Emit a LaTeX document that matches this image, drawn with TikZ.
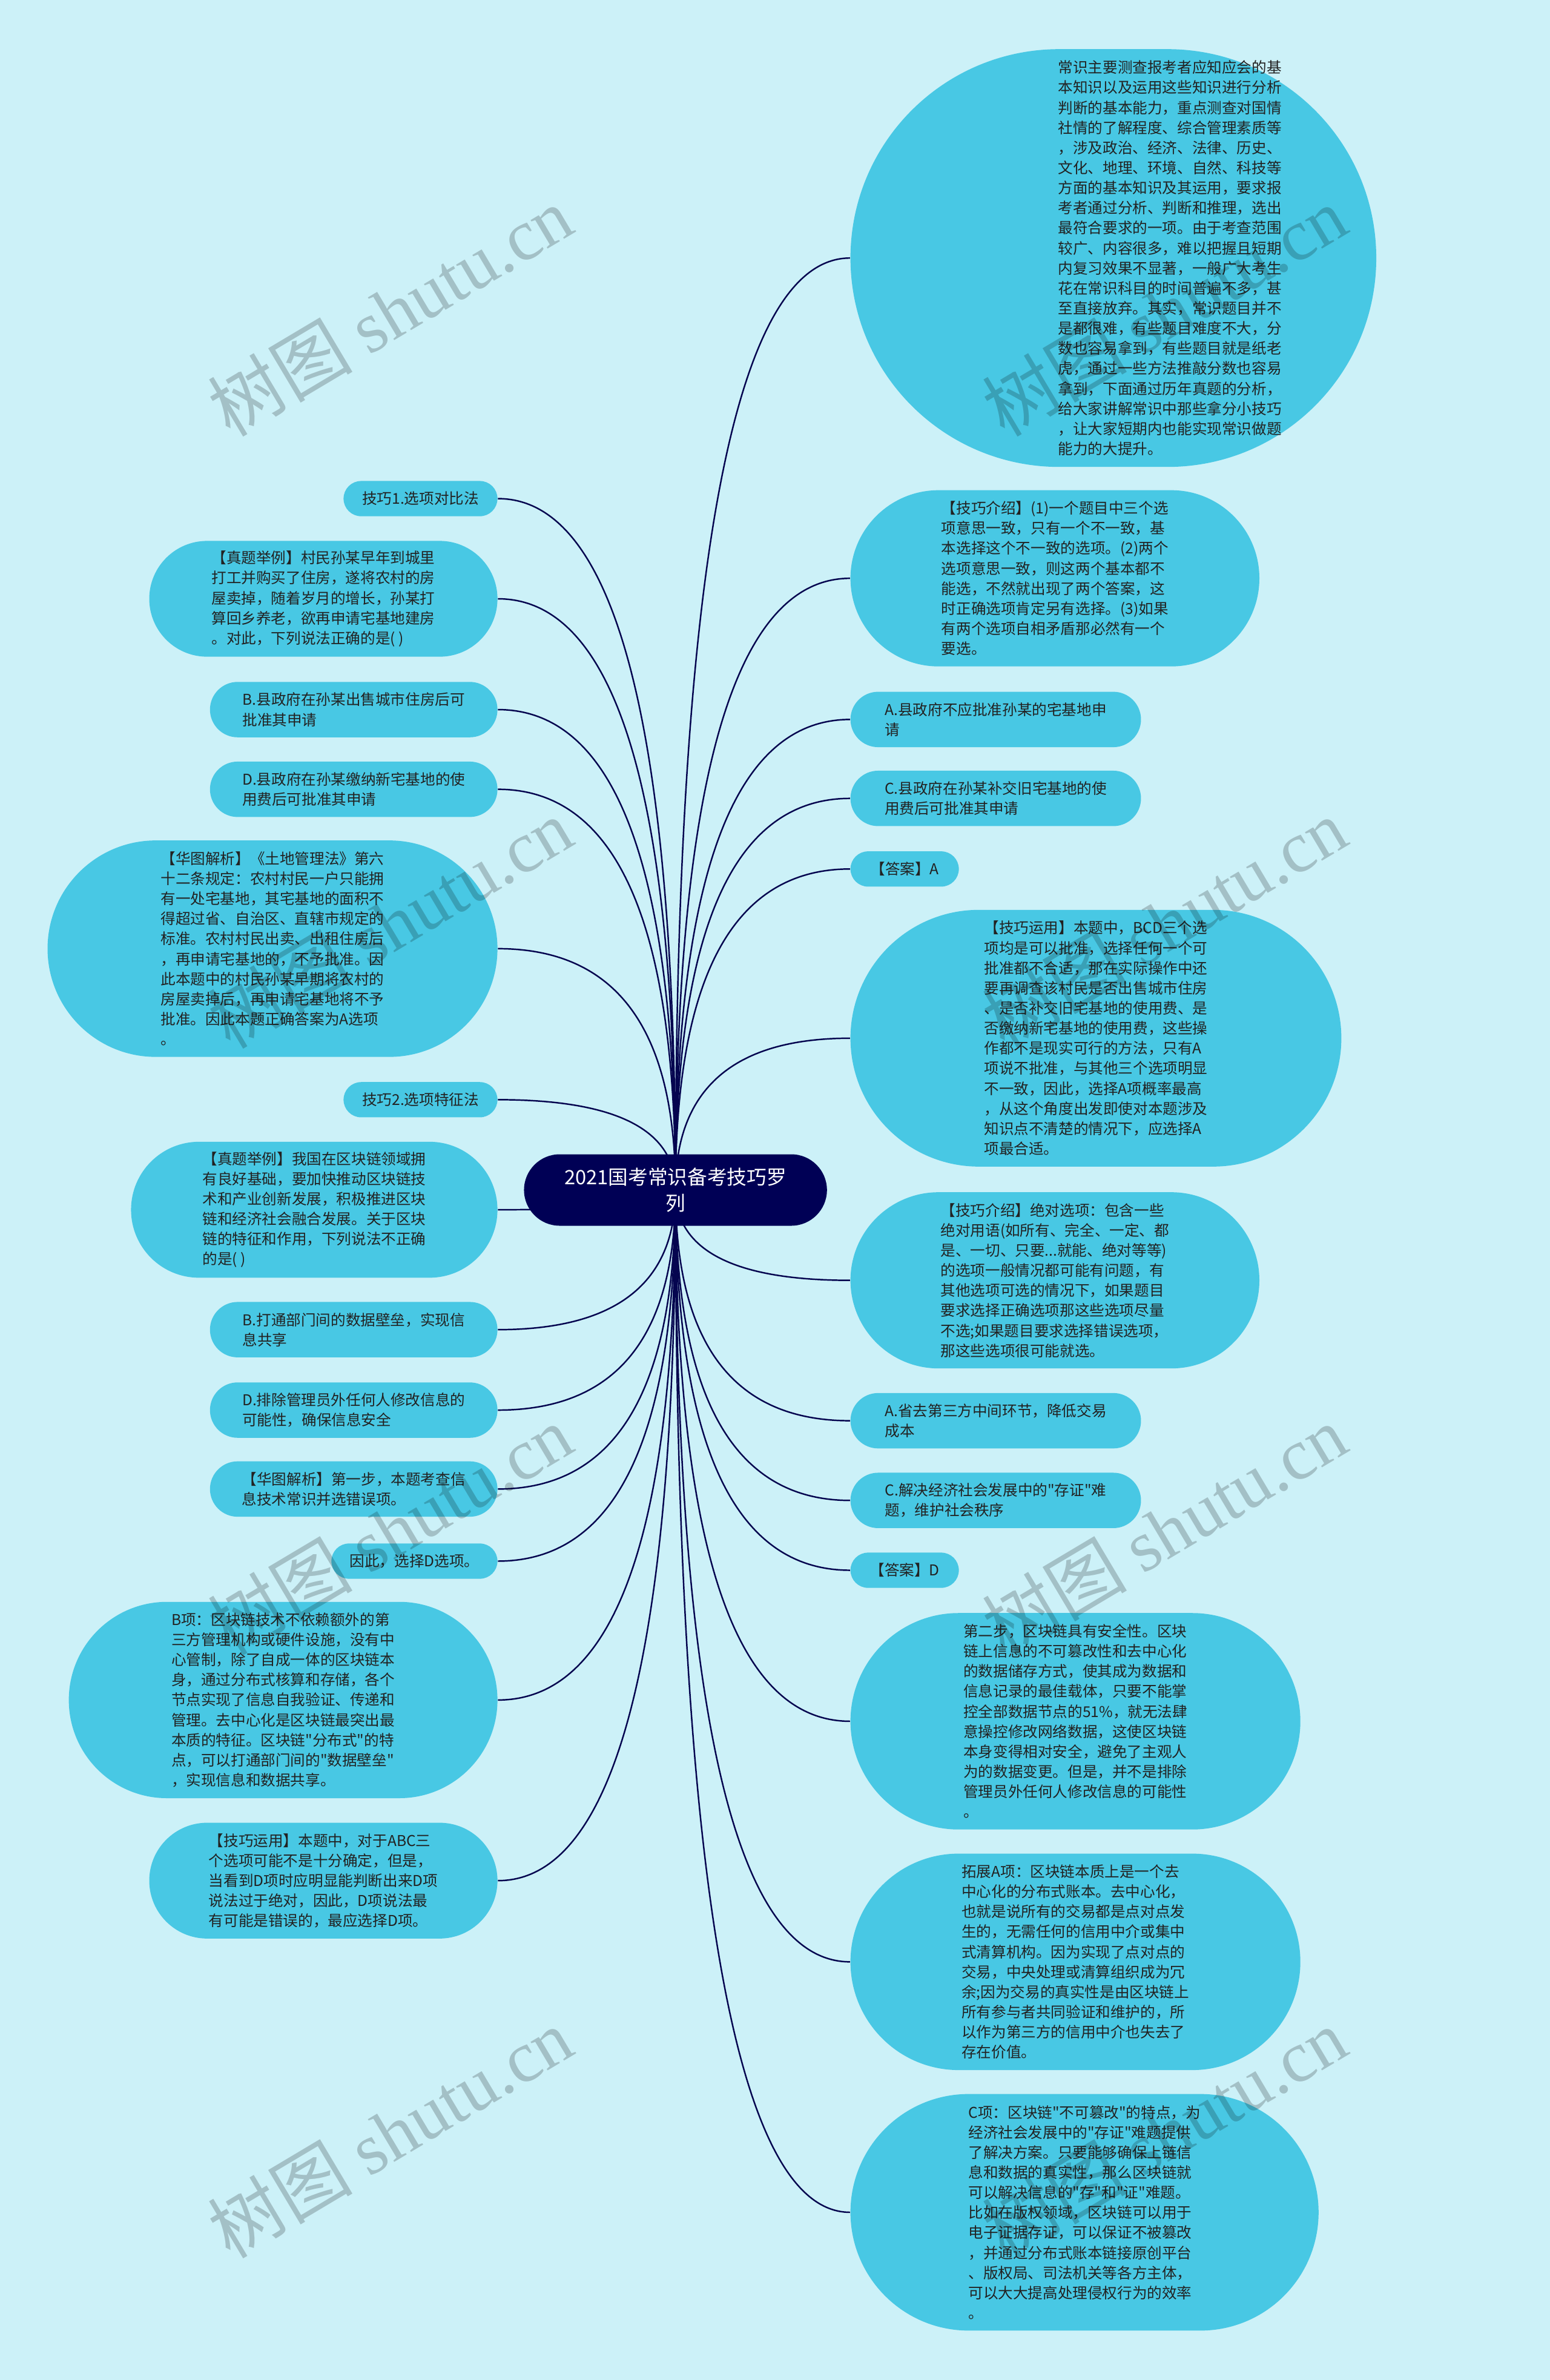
\documentclass[tikz,border=0pt]{standalone}
\usepackage{fontspec}
\setmainfont{Noto Sans CJK SC}[Ligatures=TeXOff]
\newfontfamily\markfont{Liberation Serif}
\usetikzlibrary{shapes.misc,calc,positioning}
\definecolor{bgcyan}{HTML}{CCF1F8}
\definecolor{cardblue}{HTML}{48C8E4}
\definecolor{hubnavy}{HTML}{000055}
\definecolor{linknavy}{HTML}{05054F}
\definecolor{inktext}{HTML}{222222}
\pgfdeclarelayer{bg}
\pgfdeclarelayer{links}
\pgfsetlayers{bg,links,main}
\tikzset{
  cardtext/.style={text=inktext,inner xsep=2pt,inner ysep=0pt,align=left,
    font=\fontsize{7pt}{9.43pt}\selectfont},
  card/.style={cardtext,rounded rectangle,fill=cardblue},
  nrows/.style={minimum height=#1*0.3325cm+0.25cm},
  wd/.style={minimum width=(#1+7)*0.02507cm},
  hub/.style={rounded rectangle,fill=hubnavy,text=white,inner xsep=2.8pt,minimum height=1.18cm,
    minimum width=5.2cm,align=center,font=\fontsize{9.3pt}{12.1pt}\selectfont},
  link/.style={draw=linknavy,line width=.7pt},
  wmark/.style={rotate=30.8,text=black,opacity=.2,font=\fontsize{34pt}{34pt}\selectfont}
}
\begin{document}
\begin{tikzpicture}[x=0.02507cm,y=-0.02507cm]
\useasboundingbox (0,0) rectangle (1021,1568);
\begin{pgfonlayer}{bg}
\fill[bgcyan] (0,0) rectangle (1021,1568);
\end{pgfonlayer}
\node[hub] (hub) at (445,784) {2021国考常识备考技巧罗\\列};
% right branch
\node[card,nrows=20,wd=345,anchor=west] (r1) at (560,170) {};
\node[cardtext,anchor=west] (r1t) at (694,170) {常识主要测查报考者应知应会的基\\本知识以及运用这些知识进行分析\\判断的基本能力，重点测查对国情\\社情的了解程度、综合管理素质等\\，涉及政治、经济、法律、历史、\\文化、地理、环境、自然、科技等\\方面的基本知识及其运用，要求报\\考者通过分析、判断和推理，选出\\最符合要求的一项。由于考查范围\\较广、内容很多，难以把握且短期\\内复习效果不显著，一般广大考生\\花在常识科目的时间普遍不多，甚\\至直接放弃。其实，常识题目并不\\是都很难，有些题目难度不大，分\\数也容易拿到，有些题目就是纸老\\虎，通过一些方法推敲分数也容易\\拿到，下面通过历年真题的分析，\\给大家讲解常识中那些拿分小技巧\\，让大家短期内也能实现常识做题\\能力的大提升。};
\node[card,nrows=8,wd=268,anchor=west] (r2) at (560,381) {【技巧介绍】(1)一个题目中三个选\\项意思一致，只有一个不一致，基\\本选择这个不一致的选项。(2)两个\\选项意思一致，则这两个基本都不\\能选，不然就出现了两个答案，这\\时正确选项肯定另有选择。(3)如果\\有两个选项自相矛盾那必然有一个\\要选。};
\node[card,nrows=2,wd=190,anchor=west] (r3) at (560,474) {A.县政府不应批准孙某的宅基地申\\请};
\node[card,nrows=2,wd=190,anchor=west] (r4) at (560,526) {C.县政府在孙某补交旧宅基地的使\\用费后可批准其申请};
\node[card,nrows=1,wd=70,anchor=west] (r5) at (560,572.5) {【答案】A};
\node[card,nrows=12,wd=322,anchor=west] (r6) at (560,684) {【技巧运用】本题中，BCD三个选\\项均是可以批准，选择任何一个可\\批准都不合适，那在实际操作中还\\要再调查该村民是否出售城市住房\\、是否补交旧宅基地的使用费、是\\否缴纳新宅基地的使用费，这些操\\作都不是现实可行的方法，只有A\\项说不批准，与其他三个选项明显\\不一致，因此，选择A项概率最高\\，从这个角度出发即使对本题涉及\\知识点不清楚的情况下，应选择A\\项最合适。};
\node[card,nrows=8,wd=268,anchor=west] (r7) at (560,843.5) {【技巧介绍】绝对选项：包含一些\\绝对用语(如所有、完全、一定、都\\是、一切、只要...就能、绝对等等)\\的选项一般情况都可能有问题，有\\其他选项可选的情况下，如果题目\\要求选择正确选项那这些选项尽量\\不选;如果题目要求选择错误选项，\\那这些选项很可能就选。};
\node[card,nrows=2,wd=190,anchor=west] (r8) at (560,936) {A.省去第三方中间环节，降低交易\\成本};
\node[card,nrows=2,wd=190,anchor=west] (r9) at (560,988.5) {C.解决经济社会发展中的"存证"难\\题，维护社会秩序};
\node[card,nrows=1,wd=70,anchor=west] (r10) at (560,1034.5) {【答案】D};
\node[card,nrows=10,wd=295,anchor=west] (r11) at (560,1134) {第二步，区块链具有安全性。区块\\链上信息的不可篡改性和去中心化\\的数据储存方式，使其成为数据和\\信息记录的最佳载体，只要不能掌\\控全部数据节点的51\%，就无法肆\\意操控修改网络数据，这使区块链\\本身变得相对安全，避免了主观人\\为的数据变更。但是，并不是排除\\管理员外任何人修改信息的可能性\\。};
\node[card,nrows=10,wd=295,anchor=west] (r12) at (560,1292.5) {拓展A项：区块链本质上是一个去\\中心化的分布式账本。去中心化，\\也就是说所有的交易都是点对点发\\生的，无需任何的信用中介或集中\\式清算机构。因为实现了点对点的\\交易，中央处理或清算组织成为冗\\余;因为交易的真实性是由区块链上\\所有参与者共同验证和维护的，所\\以作为第三方的信用中介也失去了\\存在价值。};
\node[card,nrows=11,wd=307,anchor=west] (r13) at (560,1457.5) {C项：区块链"不可篡改"的特点，为\\经济社会发展中的"存证"难题提供\\了解决方案。只要能够确保上链信\\息和数据的真实性，那么区块链就\\可以解决信息的"存"和"证"难题。\\比如在版权领域，区块链可以用于\\电子证据存证，可以保证不被篡改\\，并通过分布式账本链接原创平台\\、版权局、司法机关等各方主体，\\可以大大提高处理侵权行为的效率\\。};
% left branch
\node[card,nrows=1,wd=100,anchor=east] (l1) at (328,328.5) {技巧1.选项对比法};
\node[card,nrows=5,wd=228,anchor=east] (l2) at (328,394.5) {【真题举例】村民孙某早年到城里\\打工并购买了住房，遂将农村的房\\屋卖掉，随着岁月的增长，孙某打\\算回乡养老，欲再申请宅基地建房\\。对此，下列说法正确的是( )};
\node[card,nrows=2,wd=188,anchor=east] (l3) at (328,467.5) {B.县政府在孙某出售城市住房后可\\批准其申请};
\node[card,nrows=2,wd=188,anchor=east] (l4) at (328,520) {D.县政府在孙某缴纳新宅基地的使\\用费后可批准其申请};
\node[card,nrows=10,wd=295,anchor=east] (l5) at (328,625) {【华图解析】《土地管理法》第六\\十二条规定：农村村民一户只能拥\\有一处宅基地，其宅基地的面积不\\得超过省、自治区、直辖市规定的\\标准。农村村民出卖、出租住房后\\，再申请宅基地的，不予批准。因\\此本题中的村民孙某早期将农村的\\房屋卖掉后，再申请宅基地将不予\\批准。因此本题正确答案为A选项\\。};
\node[card,nrows=1,wd=100,anchor=east] (l6) at (328,724.5) {技巧2.选项特征法};
\node[card,nrows=6,wd=240,anchor=east] (l7) at (328,797) {【真题举例】我国在区块链领域拥\\有良好基础，要加快推动区块链技\\术和产业创新发展，积极推进区块\\链和经济社会融合发展。关于区块\\链的特征和作用，下列说法不正确\\的是( )};
\node[card,nrows=2,wd=188,anchor=east] (l8) at (328,876) {B.打通部门间的数据壁垒，实现信\\息共享};
\node[card,nrows=2,wd=188,anchor=east] (l9) at (328,929) {D.排除管理员外任何人修改信息的\\可能性，确保信息安全};
\node[card,nrows=2,wd=188,anchor=east] (l10) at (328,981) {【华图解析】第一步，本题考查信\\息技术常识并选错误项。};
\node[card,nrows=1,wd=108,anchor=east] (l11) at (328,1028.5) {因此，选择D选项。};
\node[card,nrows=9,wd=281,anchor=east] (l12) at (328,1120) {B项：区块链技术不依赖额外的第\\三方管理机构或硬件设施，没有中\\心管制，除了自成一体的区块链本\\身，通过分布式核算和存储，各个\\节点实现了信息自我验证、传递和\\管理。去中心化是区块链最突出最\\本质的特征。区块链"分布式"的特\\点，可以打通部门间的"数据壁垒"\\，实现信息和数据共享。};
\node[card,nrows=5,wd=228,anchor=east] (l13) at (328,1239) {【技巧运用】本题中，对于ABC三\\个选项可能不是十分确定，但是，\\当看到D项时应明显能判断出来D项\\说法过于绝对，因此，D项说法最\\有可能是错误的，最应选择D项。};
% connectors
\begin{pgfonlayer}{links}
\foreach \i in {1,...,13}{
  \draw[link] (hub.center) .. controls ($(hub.center)!.667!(hub.center |- r\i.west)$)
    and ($(r\i.west)!.667!(hub.center |- r\i.west)$) .. (r\i.west);
  \draw[link] (hub.center) .. controls ($(hub.center)!.667!(hub.center |- l\i.east)$)
    and ($(l\i.east)!.667!(hub.center |- l\i.east)$) .. (l\i.east);
}
\end{pgfonlayer}
% watermark
\foreach \x/\c in {257/a,767/b}
  \foreach \y/\r in {205/1,608/2,1008/3,1405/4}
    \node[wmark] (wm\c\r) at (\x,\y) {树图 {\markfont shutu.cn}};
\end{tikzpicture}
\end{document}
